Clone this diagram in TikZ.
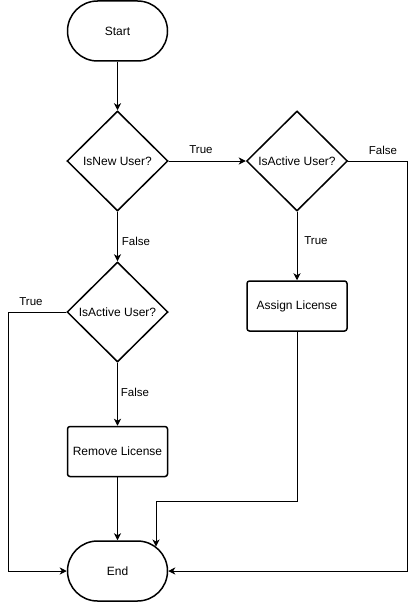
\documentclass[tikz,border=0pt]{standalone}
\usepackage{fontspec}
\setmainfont{Liberation Sans}
\usetikzlibrary{shapes.geometric,arrows.meta}
\begin{document}
\begin{tikzpicture}[x=1pt,y=-1pt,
  shapeline/.style={draw=black,line width=1.5pt,inner sep=0pt,font=\fontsize{12}{14}\selectfont},
  terminal/.style={shapeline,rectangle,rounded corners=30pt,minimum width=100pt,minimum height=60pt},
  decision/.style={shapeline,diamond,minimum width=101pt,minimum height=100pt,aspect=1},
  process/.style={shapeline,rectangle,rounded corners=2.5pt,minimum width=100pt,minimum height=50pt},
  edge/.style={draw=black,line width=1pt,-{Stealth[length=7pt,width=7pt,inset=2pt]}},
  lbl/.style={inner sep=0pt,font=\fontsize{11.5}{13}\selectfont}]
\useasboundingbox (0,0) rectangle (416,602);
\node[terminal] (start) at (117.5,31) {Start};
\node[decision] (isnew) at (117.5,161) {IsNew User?};
\node[decision] (act1) at (297,161) {IsActive User?};
\node[decision] (act2) at (117.5,312) {IsActive User?};
\node[process] (assign) at (297,306) {Assign License};
\node[process] (remove) at (117.5,451.5) {Remove License};
\node[terminal] (end) at (117.5,571) {End};
\coordinate (rgt) at (407,161);
\coordinate (lft) at (8,312);
\coordinate (bend) at (156,501);
\coordinate (endin) at (156,546.5);
\draw[edge] (start) -- (isnew);
\draw[edge] (isnew.east) -- (act1.west);
\node[lbl] (t1) at (201,150) {True};
\draw[edge] (act1.east) -- (rgt) |- (end.east);
\node[lbl] (f1) at (383,150) {False};
\draw[edge] (isnew.south) -- (act2.north);
\node[lbl] (f2) at (136,241) {False};
\draw[edge] (act1.south) -- (assign.north);
\node[lbl] (t2) at (316,241) {True};
\draw[edge] (act2.west) -- (lft) |- (end.west);
\node[lbl] (t3) at (31,302) {True};
\draw[edge] (act2.south) -- (remove.north);
\node[lbl] (f3) at (135,392) {False};
\draw[edge] (remove.south) -- (end.north);
\draw[edge] (assign.south) |- (bend) -- (endin);
\end{tikzpicture}
\end{document}
